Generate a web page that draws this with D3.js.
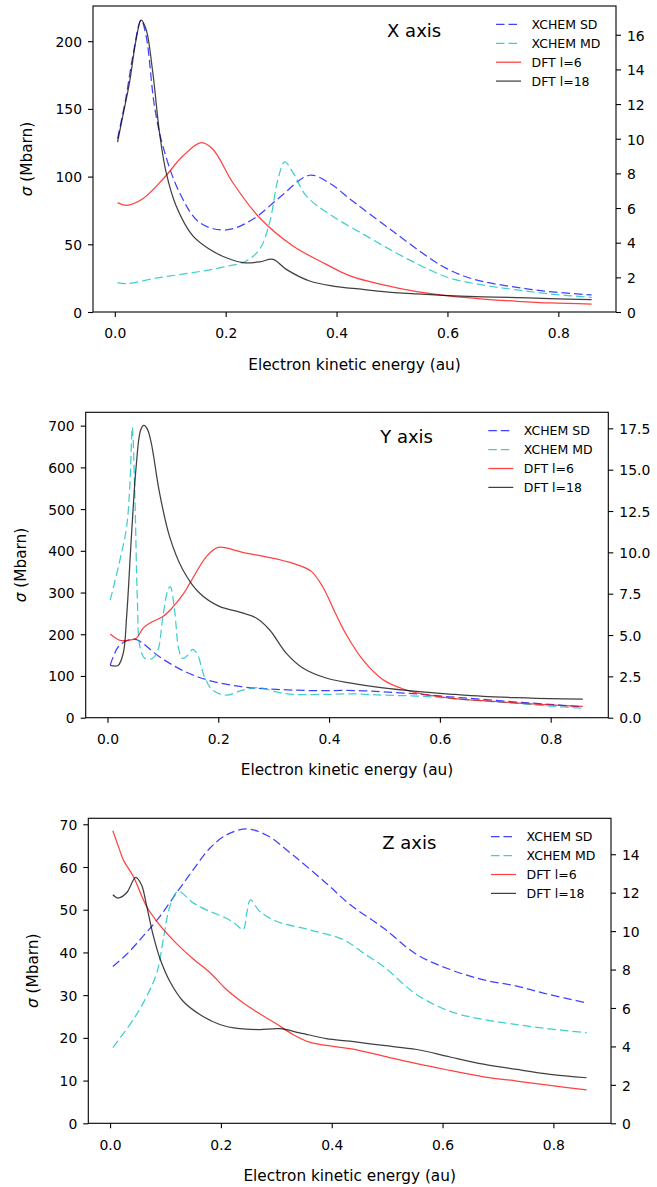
<!DOCTYPE html>
<html>
<head>
<meta charset="utf-8">
<script src="https://cdn.jsdelivr.net/npm/d3@7"></script>
<style>
  body { margin: 0; background: #fff; }
  svg { display: block; }
  text { font-family: "DejaVu Sans", sans-serif; fill: #000; }
</style>
</head>
<body>
<svg id="chart" width="657" height="1187"></svg>
<script>
// ---- Photoionisation cross sections, sigma vs electron kinetic energy (au) ----
// XCHEM curves in Mbarn (left axis), DFT curves on the right axis.

const seriesNames = ["XCHEM SD", "XCHEM MD", "DFT l=6", "DFT l=18"];
const xTickValues = [0.0, 0.2, 0.4, 0.6, 0.8];

// X axis polarisation
const xSD = [[0.005,128],[0.02,158],[0.0325,189],[0.0475,215.7],[0.0565,204],[0.0716,152],[0.0867,122.6],[0.1167,88.2],[0.153,66],[0.201,60.6],[0.249,68.5],[0.297,84.5],[0.3515,101],[0.388,95],[0.424,83.5],[0.448,76],[0.5086,57.5],[0.5687,39.5],[0.599,32],[0.629,26.6],[0.665,22.4],[0.7252,18.2],[0.785,15],[0.86,12.6]];
const xMD = [[0.005,21.7],[0.02,20.9],[0.08,25.4],[0.14,29],[0.2,33.5],[0.237,37.7],[0.2612,46.3],[0.2792,66],[0.2943,98],[0.3063,110.8],[0.3214,103],[0.3454,85.7],[0.388,72],[0.448,57.5],[0.5086,43.4],[0.5687,31],[0.6048,24.9],[0.665,19.9],[0.7252,16.3],[0.785,13.3],[0.86,10.8]];
const xL6 = [[0.005,6.31],[0.0205,6.16],[0.0506,6.54],[0.0867,7.66],[0.1228,9.0],[0.1558,9.77],[0.1769,9.39],[0.213,7.46],[0.2612,5.44],[0.3214,3.81],[0.3815,2.75],[0.4243,2.08],[0.4844,1.56],[0.5446,1.17],[0.6048,0.92],[0.665,0.75],[0.7252,0.62],[0.785,0.52],[0.86,0.46]];
const xL18 = [[0.005,9.81],[0.0144,11.31],[0.0265,13.23],[0.0385,15.74],[0.0475,16.85],[0.0565,16.31],[0.0686,13.81],[0.0806,10.35],[0.0927,8.04],[0.1107,6.12],[0.1408,4.39],[0.171,3.62],[0.201,3.13],[0.2311,2.85],[0.2612,2.89],[0.2853,3.04],[0.3093,2.46],[0.3515,1.79],[0.3936,1.5],[0.4477,1.31],[0.4844,1.17],[0.5446,1.04],[0.6048,0.94],[0.665,0.88],[0.7252,0.83],[0.785,0.77],[0.86,0.71]];

// Y axis polarisation
const ySD = [[0.005,126],[0.0195,170],[0.0375,186],[0.0526,187],[0.094,146],[0.136,113],[0.184,89],[0.244,74],[0.3045,68],[0.365,65],[0.45,65],[0.4975,62],[0.5577,57],[0.6178,50],[0.678,44],[0.738,37.6],[0.798,32],[0.858,26]];
const yMD = [[0.005,282],[0.0225,378],[0.0346,458],[0.0406,562],[0.0448,696],[0.0496,522],[0.054,282],[0.0586,170],[0.0676,142],[0.081,142],[0.091,162],[0.1,242],[0.109,306],[0.1133,314],[0.121,259],[0.129,162],[0.136,142],[0.145,150],[0.154,164],[0.163,150],[0.175,98],[0.19,66],[0.214,54],[0.244,66],[0.2745,72],[0.3045,62],[0.3346,56],[0.3947,56],[0.45,57],[0.4975,54],[0.5577,52],[0.6178,46.5],[0.678,40],[0.738,34.5],[0.798,28],[0.858,22.5]];
const yL6 = [[0.005,5.06],[0.0225,4.68],[0.038,4.68],[0.0526,4.82],[0.0646,5.43],[0.0767,5.73],[0.1007,6.13],[0.119,6.73],[0.136,7.44],[0.149,8.15],[0.179,9.76],[0.2,10.3],[0.244,10.0],[0.3045,9.6],[0.3466,9.2],[0.368,8.85],[0.388,7.95],[0.411,6.35],[0.4315,5.0],[0.461,3.5],[0.4975,2.3],[0.53,1.78],[0.5577,1.5],[0.6178,1.19],[0.678,1.03],[0.738,0.89],[0.798,0.77],[0.858,0.68]];
const yL18 = [[0.005,3.16],[0.019,3.16],[0.0285,3.91],[0.0346,6.13],[0.0436,11.17],[0.0518,15.2],[0.0599,17.4],[0.0658,17.68],[0.072,17.45],[0.079,16.62],[0.094,13.6],[0.112,10.97],[0.136,8.95],[0.166,7.54],[0.202,6.73],[0.2385,6.39],[0.2685,6.03],[0.2925,5.32],[0.3225,3.91],[0.3526,3.01],[0.3947,2.4],[0.437,2.1],[0.4975,1.8],[0.5577,1.59],[0.6178,1.43],[0.678,1.29],[0.738,1.21],[0.798,1.15],[0.858,1.13]];

// Z axis polarisation
const zSD = [[0.005,36.7],[0.0295,39.5],[0.0596,43.8],[0.0897,48.4],[0.1197,53.9],[0.1498,59.3],[0.18,64.4],[0.21,67.5],[0.246,68.9],[0.282,67.5],[0.33,62.8],[0.39,56.2],[0.433,51.2],[0.4934,45.7],[0.5536,39.5],[0.6137,36],[0.6738,33.6],[0.734,32.1],[0.794,30.1],[0.86,28.2]];
const zMD = [[0.005,17.7],[0.042,24.3],[0.066,29.7],[0.0843,35.2],[0.096,43],[0.108,50.8],[0.1227,54.3],[0.1498,51.6],[0.18,49.6],[0.21,48],[0.228,46.5],[0.24,45.3],[0.2473,49.6],[0.2533,52.3],[0.27,49.6],[0.3,47.3],[0.36,45.3],[0.4206,43],[0.4567,39.9],[0.4934,36.7],[0.5536,30.1],[0.6137,26.2],[0.6738,24.3],[0.734,23.1],[0.794,22.1],[0.86,21.2]];
const zL6 = [[0.005,15.22],[0.0175,14.2],[0.024,13.7],[0.042,12.84],[0.066,11.28],[0.09,10.3],[0.12,9.35],[0.15,8.55],[0.18,7.85],[0.21,6.96],[0.24,6.27],[0.27,5.7],[0.3,5.18],[0.33,4.62],[0.36,4.22],[0.39,4.05],[0.433,3.88],[0.4934,3.5],[0.5536,3.1],[0.6137,2.75],[0.6738,2.42],[0.734,2.2],[0.794,1.97],[0.86,1.74]];
const zL18 = [[0.005,11.89],[0.0144,11.72],[0.0295,11.98],[0.0463,12.79],[0.0566,12.41],[0.0656,11.37],[0.0776,9.81],[0.0897,8.6],[0.1077,7.39],[0.1318,6.35],[0.162,5.66],[0.198,5.14],[0.234,4.92],[0.27,4.88],[0.306,4.92],[0.3424,4.71],[0.39,4.41],[0.433,4.27],[0.4934,4.05],[0.5536,3.84],[0.6137,3.45],[0.6738,3.08],[0.734,2.8],[0.794,2.55],[0.86,2.37]];

// Tick values
const xLeftTicks = [0, 50, 100, 150, 200];
const xRightTicks = [0, 2, 4, 6, 8, 10, 12, 14, 16];
const yLeftTicks = [0, 100, 200, 300, 400, 500, 600, 700];
const yRightTicks = [0, 2.5, 5, 7.5, 10, 12.5, 15, 17.5];
const zLeftTicks = [0, 10, 20, 30, 40, 50, 60, 70];
const zRightTicks = [0, 2, 4, 6, 8, 10, 12, 14];

// ---- styling ----
const styles = [
  { color: "#0000ff", dash: "8.5,4" },
  { color: "#00bfbf", dash: "8.5,4" },
  { color: "#ff0000", dash: null },
  { color: "#000000", dash: null }
];
const lineOpacity = 0.75;
const lineWidth = 1.25;

const panels = [
  { title: "X axis", box: { l: 93, t: 6, r: 616, b: 312 }, leftMax: 226, rightMax: 17.66,
    leftTicks: xLeftTicks, rightTicks: xRightTicks, rightFmt: d3.format("d"), ylabelX: 26.7,
    series: [xSD, xMD, xL6, xL18] },
  { title: "Y axis", box: { l: 85.7, t: 412.3, r: 608.3, b: 717.7 }, leftMax: 732, rightMax: 18.47,
    leftTicks: yLeftTicks, rightTicks: yRightTicks, rightFmt: d3.format(".1f"), ylabelX: 20.7,
    series: [ySD, yMD, yL6, yL18] },
  { title: "Z axis", box: { l: 88.3, t: 818.3, r: 611, b: 1123.3 }, leftMax: 71.4, rightMax: 15.87,
    leftTicks: zLeftTicks, rightTicks: zRightTicks, rightFmt: d3.format("d"), ylabelX: 32.5,
    series: [zSD, zMD, zL6, zL18] }
];

const xDomain = [-0.0393, 0.904];
const svg = d3.select("#chart");
svg.append("rect").attr("width", 657).attr("height", 1187).attr("fill", "#fff");

const TICK_FONT = 13.9, LABEL_FONT = 15.3, LEGEND_FONT = 12.5, TITLE_FONT = 18;

panels.forEach(p => {
  const b = p.box;
  const g = svg.append("g");
  const x = d3.scaleLinear().domain(xDomain).range([b.l, b.r]);
  const yL = d3.scaleLinear().domain([0, p.leftMax]).range([b.b, b.t]);
  const yR = d3.scaleLinear().domain([0, p.rightMax]).range([b.b, b.t]);
  const scales = [yL, yL, yR, yR];

  // curves
  p.series.forEach((data, i) => {
    const ys = scales[i];
    const line = d3.line().x(d => x(d[0])).y(d => ys(d[1])).curve(d3.curveCatmullRom.alpha(0.5));
    const path = g.append("path").datum(data)
      .attr("d", line)
      .attr("fill", "none")
      .attr("stroke", styles[i].color)
      .attr("stroke-opacity", lineOpacity)
      .attr("stroke-width", lineWidth)
      .attr("stroke-linejoin", "round");
    if (styles[i].dash) path.attr("stroke-dasharray", styles[i].dash);
  });

  // axes
  const bottom = g.append("g").attr("transform", `translate(0,${b.b})`)
    .call(d3.axisBottom(x).tickValues(xTickValues).tickFormat(d3.format(".1f"))
      .tickSize(5).tickSizeOuter(0).tickPadding(11.6));
  const left = g.append("g").attr("transform", `translate(${b.l},0)`)
    .call(d3.axisLeft(yL).tickValues(p.leftTicks).tickFormat(d3.format("d"))
      .tickSize(5).tickSizeOuter(0).tickPadding(6));
  const right = g.append("g").attr("transform", `translate(${b.r},0)`)
    .call(d3.axisRight(yR).tickValues(p.rightTicks).tickFormat(p.rightFmt)
      .tickSize(5).tickSizeOuter(0).tickPadding(6));
  [bottom, left, right].forEach(a => {
    a.select(".domain").remove();
    a.selectAll("line").attr("stroke", "#000").attr("stroke-width", 1.1);
    a.selectAll("text").attr("font-size", TICK_FONT).attr("font-family", "DejaVu Sans").attr("fill", "#000");
  });
  left.selectAll("text").attr("dy", "0.36em");
  right.selectAll("text").attr("dy", "0.38em");

  // frame
  g.append("rect").attr("x", b.l).attr("y", b.t)
    .attr("width", b.r - b.l).attr("height", b.b - b.t)
    .attr("fill", "none").attr("stroke", "#000").attr("stroke-width", 1.1);

  // axis labels
  g.append("text").attr("x", (b.l + b.r) / 2).attr("y", b.b + 57.7)
    .attr("text-anchor", "middle").attr("font-size", LABEL_FONT)
    .text("Electron kinetic energy (au)");
  const cy = (b.t + b.b) / 2;
  const yl = g.append("text")
    .attr("transform", `translate(${p.ylabelX + 5.5},${cy}) rotate(-90)`)
    .attr("text-anchor", "middle").attr("font-size", LABEL_FONT);
  yl.append("tspan").attr("font-style", "italic").text("σ");
  yl.append("tspan").text(" (Mbarn)");

  // panel title
  g.append("text").attr("x", b.l + 0.614 * (b.r - b.l)).attr("y", b.b - 0.9 * (b.b - b.t))
    .attr("text-anchor", "middle").attr("font-size", TITLE_FONT).text(p.title);

  // legend
  const lx = b.r - 120;
  seriesNames.forEach((name, i) => {
    const ly = b.t + 18.4 + i * 18.9;
    const l = g.append("line").attr("x1", lx).attr("x2", lx + 25).attr("y1", ly).attr("y2", ly)
      .attr("stroke", styles[i].color).attr("stroke-opacity", lineOpacity)
      .attr("stroke-width", lineWidth);
    if (styles[i].dash) l.attr("stroke-dasharray", styles[i].dash);
    g.append("text").attr("x", lx + 35.5).attr("y", ly).attr("dy", "0.36em")
      .attr("font-size", LEGEND_FONT).text(name);
  });
});
</script>
</body>
</html>
